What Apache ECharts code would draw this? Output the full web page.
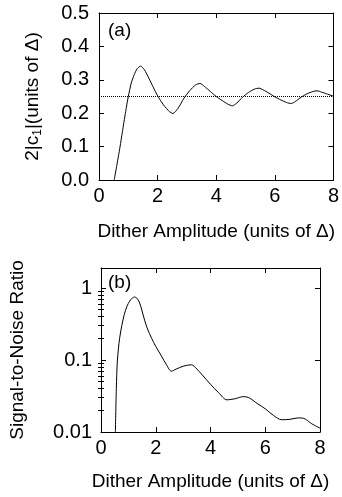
<!DOCTYPE html>
<html>
<head>
<meta charset="utf-8">
<script src="https://cdn.jsdelivr.net/npm/echarts@6/dist/echarts.min.js"></script>
<style>
  html, body { margin: 0; padding: 0; background: #fff; }
  #chart { width: 342px; height: 497px; }
</style>
</head>
<body>
<div id="chart"></div>
<script>
// panel (a): 2|c1| against dither amplitude
var ampA = [0.52, 0.6, 0.7, 0.8, 0.9, 1.0, 1.1, 1.2, 1.3, 1.42, 1.55, 1.7, 1.85, 2.0, 2.2, 2.4, 2.52,
  2.7, 2.9, 3.1, 3.3, 3.45, 3.6, 3.8, 4.0, 4.2, 4.4, 4.55, 4.7, 4.9, 5.1, 5.3, 5.46, 5.6, 5.8,
  6.0, 6.2, 6.4, 6.56, 6.7, 6.9, 7.1, 7.3, 7.44, 7.6, 7.8, 8.0];
var c1A = [0, 0.04, 0.09, 0.145, 0.2, 0.25, 0.29, 0.315, 0.333, 0.341, 0.33, 0.305, 0.278, 0.252, 0.225, 0.205, 0.199,
  0.215, 0.245, 0.268, 0.285, 0.289, 0.28, 0.265, 0.25, 0.238, 0.227, 0.222, 0.23, 0.248, 0.262, 0.272, 0.275, 0.27, 0.26,
  0.249, 0.24, 0.232, 0.229, 0.235, 0.248, 0.258, 0.265, 0.267, 0.263, 0.257, 0.251];
var refLevel = 0.25;

// panel (b): signal-to-noise ratio
var ampB = [0.525, 0.56, 0.6, 0.68, 0.76, 0.85, 0.95, 1.05, 1.15, 1.22, 1.3, 1.4, 1.5, 1.6, 1.7, 1.85, 2.0,
  2.2, 2.4, 2.57, 2.75, 3.0, 3.3, 3.5, 3.7, 4.0, 4.3, 4.6, 4.9, 5.2, 5.4, 5.7, 6.0, 6.3, 6.6, 6.9, 7.2, 7.4, 7.7, 8.0];
var snrB = [0.01, 0.04, 0.1, 0.2, 0.3, 0.43, 0.56, 0.66, 0.73, 0.75, 0.73, 0.64, 0.48, 0.35, 0.27, 0.2, 0.155,
  0.115, 0.085, 0.07, 0.075, 0.082, 0.086, 0.075, 0.062, 0.046, 0.035, 0.028, 0.029, 0.031, 0.030, 0.025, 0.021, 0.017,
  0.0148, 0.015, 0.0157, 0.0155, 0.013, 0.0113];

// ticks
var xTicks = [0, 2, 4, 6, 8];
var yTicksA = [0, 0.1, 0.2, 0.3, 0.4, 0.5];
var yTicksB = [0.01, 0.1, 1];
var yMinorB = [0.02, 0.03, 0.04, 0.05, 0.06, 0.07, 0.08, 0.09, 0.2, 0.3, 0.4, 0.5, 0.6, 0.7, 0.8, 0.9];

var font = 'Liberation Sans, Arial, sans-serif';
var black = '#000';

function pairs(xs, ys) {
  return xs.map(function (x, i) { return [x, ys[i]]; });
}

function xAxis(grid, pos, labelled, gap) {
  return {
    type: 'value', gridIndex: grid, position: pos,
    min: 0, max: 8, interval: 2,
    axisLine: { show: true, onZero: false, lineStyle: { color: black, width: 1 } },
    axisTick: { show: true, inside: true, length: 5, lineStyle: { color: black } },
    axisLabel: { show: labelled, color: black, fontFamily: font, fontSize: 20, margin: 6 },
    splitLine: { show: false },
    name: labelled ? 'Dither Amplitude (units of Δ)' : '',
    nameLocation: 'middle', nameGap: gap,
    nameTextStyle: { color: black, fontFamily: font, fontSize: 19 }
  };
}

var option = {
  animation: false,
  backgroundColor: '#fff',
  grid: [
    { left: 99, right: 8, top: 13, height: 167 },
    { left: 99, right: 22, top: 268, height: 164 }
  ],
  xAxis: [
    xAxis(0, 'bottom', true, 42),
    xAxis(0, 'top', false, 0),
    xAxis(1, 'bottom', true, 40),
    xAxis(1, 'top', false, 0)
  ],
  yAxis: [
    {
      type: 'value', gridIndex: 0, position: 'left', min: 0, max: 0.5, interval: 0.1,
      axisLine: { show: true, onZero: false, lineStyle: { color: black } },
      axisTick: { show: true, inside: true, length: 5, lineStyle: { color: black } },
      axisLabel: {
        color: black, fontFamily: font, fontSize: 20, margin: 10,
        customValues: yTicksA,
        formatter: function (v) { return v.toFixed(1); }
      },
      splitLine: { show: false },
      name: '2|c{s|1}|(units of Δ)', nameLocation: 'middle', nameGap: 55, nameRotate: 90,
      nameTextStyle: {
        color: black, fontFamily: font, fontSize: 19,
        rich: { s: { fontFamily: font, fontSize: 12, verticalAlign: 'bottom', padding: [10, 0, 0, 0] } }
      }
    },
    {
      type: 'value', gridIndex: 0, position: 'right', min: 0, max: 0.5, interval: 0.1,
      axisLine: { show: true, onZero: false, lineStyle: { color: black } },
      axisTick: { show: true, inside: true, length: 5, lineStyle: { color: black } },
      axisLabel: { show: false }, splitLine: { show: false }
    },
    {
      type: 'log', logBase: 10, gridIndex: 1, position: 'left', min: 0.01, max: 1.9,
      axisLine: { show: true, onZero: false, lineStyle: { color: black } },
      axisTick: { show: true, inside: true, length: 5, customValues: yTicksB, lineStyle: { color: black } },
      axisLabel: {
        color: black, fontFamily: font, fontSize: 20, margin: 9,
        customValues: yTicksB,
        formatter: function (v) { return String(+v.toPrecision(3)); }
      },
      splitLine: { show: false },
      name: 'Signal-to-Noise Ratio', nameLocation: 'middle', nameGap: 74, nameRotate: 90,
      nameTextStyle: { color: black, fontFamily: font, fontSize: 19 }
    },
    {
      type: 'log', logBase: 10, gridIndex: 1, position: 'left', min: 0.01, max: 1.9,
      axisLine: { show: false },
      axisTick: { show: true, inside: true, length: 3, customValues: yMinorB, lineStyle: { color: black } },
      axisLabel: { show: false }, splitLine: { show: false }
    },
    {
      type: 'log', logBase: 10, gridIndex: 1, position: 'right', min: 0.01, max: 1.9,
      axisLine: { show: true, onZero: false, lineStyle: { color: black } },
      axisTick: { show: true, inside: true, length: 5, customValues: yTicksB, lineStyle: { color: black } },
      axisLabel: { show: false }, splitLine: { show: false }
    },
    {
      type: 'log', logBase: 10, gridIndex: 1, position: 'right', min: 0.01, max: 1.9,
      axisLine: { show: false },
      axisTick: { show: true, inside: true, length: 3, customValues: yMinorB, lineStyle: { color: black } },
      axisLabel: { show: false }, splitLine: { show: false }
    }
  ],
  graphic: [
    { type: 'text', left: 108, top: 21, style: { text: '(a)', font: '19px ' + font, fill: black } },
    { type: 'text', left: 108, top: 273, style: { text: '(b)', font: '19px ' + font, fill: black } }
  ],
  series: [
    {
      type: 'line', xAxisIndex: 0, yAxisIndex: 0, data: pairs(ampA, c1A),
      showSymbol: false, smooth: 0.2, lineStyle: { color: black, width: 1 }
    },
    {
      type: 'line', xAxisIndex: 0, yAxisIndex: 0,
      data: [[xTicks[0], refLevel], [xTicks[xTicks.length - 1], refLevel]],
      showSymbol: false, lineStyle: { color: black, width: 1, type: [1, 1] }
    },
    {
      type: 'line', xAxisIndex: 2, yAxisIndex: 2, data: pairs(ampB, snrB),
      showSymbol: false, smooth: 0.3, lineStyle: { color: black, width: 1 }
    }
  ]
};

var chart = echarts.init(document.getElementById('chart'));
chart.setOption(option);
</script>
</body>
</html>
